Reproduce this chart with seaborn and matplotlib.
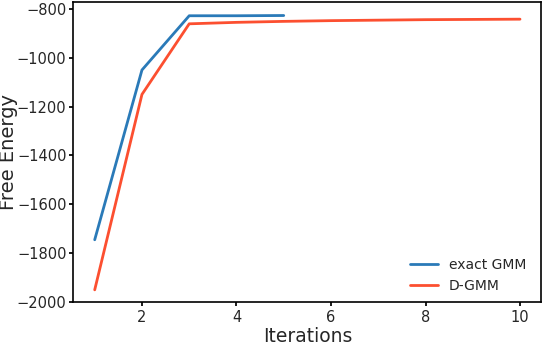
import numpy as np
import pandas as pd
import seaborn as sns
import matplotlib
matplotlib.use("Agg")
import matplotlib.pyplot as plt

exact_iter = [1, 2, 3, 4, 5]
exact_vals = [-1745, -1050, -828, -828, -827]
dgmm_iter = [1, 2, 3, 4, 5, 6, 7, 8, 9, 10]
dgmm_vals = [-1950, -1150, -861, -855, -851, -848, -846, -844, -843, -842]

df = pd.concat([
    pd.DataFrame({"Iterations": exact_iter, "Free Energy": exact_vals, "method": "exact GMM"}),
    pd.DataFrame({"Iterations": dgmm_iter, "Free Energy": dgmm_vals, "method": "D-GMM"}),
])

sns.set_theme(style="ticks")
plt.rcParams['font.family'] = ['DejaVu Sans']

fig, ax = plt.subplots(figsize=(5.44, 3.46), dpi=100)
sns.lineplot(data=df, x="Iterations", y="Free Energy", hue="method",
             palette={"exact GMM": "#2a7ab8", "D-GMM": "#fc4f30"}, linewidth=2, ax=ax)
ax.set_ylim(-2000, -772)
ax.set_xticks([2, 4, 6, 8, 10])
ax.set_yticks([-2000, -1800, -1600, -1400, -1200, -1000, -800])
ax.tick_params(labelsize=10.5, direction='out', length=3, color='black')
ax.tick_params(axis='y', pad=2)
ax.tick_params(axis='x', pad=3)
ax.set_xlabel("Iterations", fontsize=13.5)
ax.set_ylabel("Free Energy", fontsize=14)
ax.yaxis.set_label_coords(-0.118, 0.5)
fig.subplots_adjust(left=0.135, right=0.995, top=0.994, bottom=0.127)
# place xlabel just below tick labels
ax.xaxis.labelpad = 1
for s in ax.spines.values():
    s.set_visible(True)
    s.set_color('black')
    s.set_linewidth(1.2)
leg = ax.legend(loc='lower right', frameon=False, fontsize=10, title=None,
                bbox_to_anchor=(0.995, -0.01))
fig.savefig("out.png", dpi=100)
